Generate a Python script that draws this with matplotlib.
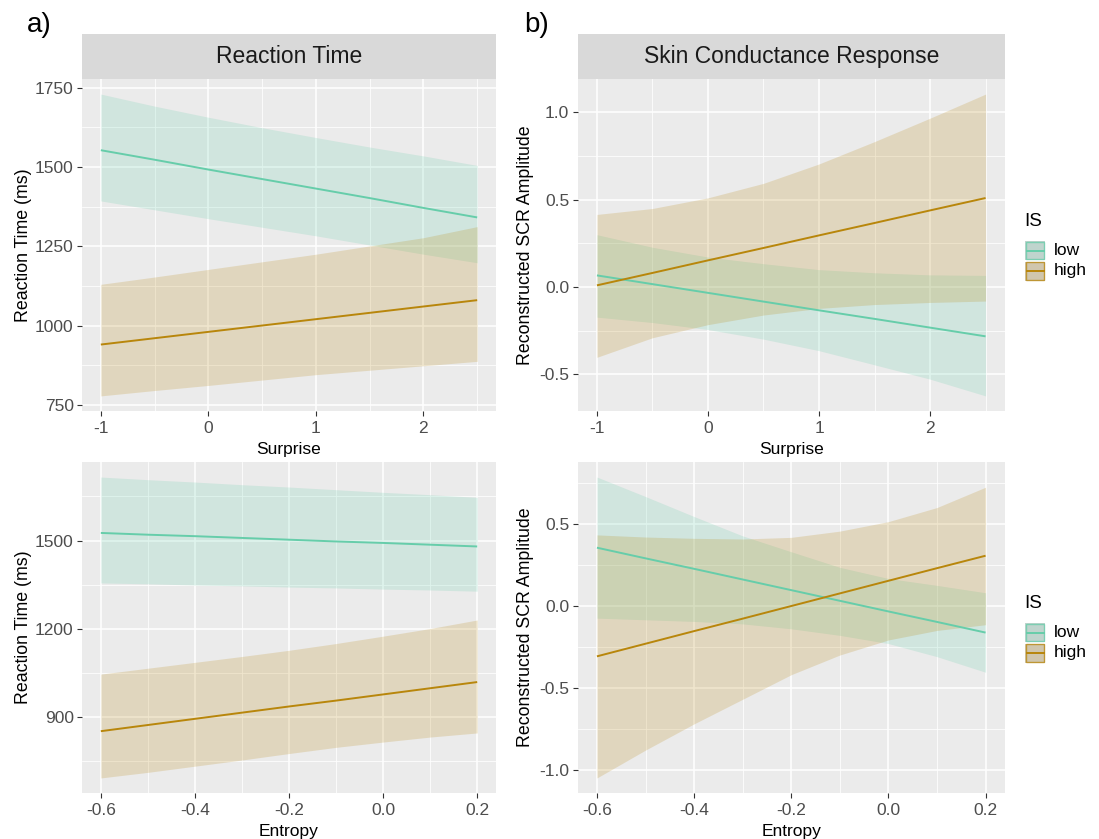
"""Interaction plots: reaction time and SCR by surprise / entropy, split by IS."""

import matplotlib.pyplot as plt
from matplotlib.patches import Rectangle
from matplotlib.ticker import FixedLocator, MultipleLocator

plt.rcParams["font.family"] = ["Liberation Sans", "DejaVu Sans"]

# ---- data ---------------------------------------------------------------
groups = ["low", "high"]

surprise_x = [-1.0, -0.5, 0.0, 0.5, 1.0, 1.5, 2.0, 2.5]
entropy_x = [-0.6, -0.5, -0.4, -0.3, -0.2, -0.1, 0.0, 0.1, 0.2]

# Reaction time ~ surprise
rt_s_low_fit = [1553, 1523, 1492, 1462, 1432, 1402, 1371, 1341]
rt_s_low_up = [1730, 1692, 1657, 1624, 1593, 1563, 1535, 1505]
rt_s_low_lo = [1393, 1365, 1337, 1310, 1283, 1254, 1225, 1198]
rt_s_high_fit = [940, 960, 980, 1000, 1020, 1040, 1060, 1080]
rt_s_high_up = [1130, 1153, 1177, 1201, 1225, 1251, 1277, 1312]
rt_s_high_lo = [778, 795, 811, 828, 845, 859, 873, 887]

# Reaction time ~ entropy
rt_e_low_fit = [1526, 1520, 1515, 1509, 1503, 1497, 1492, 1486, 1480]
rt_e_low_up = [1716, 1707, 1699, 1690, 1682, 1673, 1664, 1656, 1647]
rt_e_low_lo = [1356, 1353, 1349, 1346, 1342, 1339, 1335, 1332, 1328]
rt_e_high_fit = [852, 873, 894, 915, 936, 956, 977, 998, 1019]
rt_e_high_up = [1046, 1066, 1086, 1106, 1127, 1150, 1175, 1201, 1230]
rt_e_high_lo = [693, 712, 733, 754, 776, 797, 815, 832, 846]

# SCR ~ surprise
scr_s_low_fit = [0.067, 0.017, -0.033, -0.083, -0.133, -0.182, -0.232, -0.282]
scr_s_low_up = [0.300, 0.228, 0.172, 0.134, 0.100, 0.082, 0.070, 0.067]
scr_s_low_lo = [-0.172, -0.203, -0.243, -0.298, -0.364, -0.445, -0.527, -0.623]
scr_s_high_fit = [0.010, 0.081, 0.153, 0.224, 0.296, 0.367, 0.439, 0.510]
scr_s_high_up = [0.416, 0.450, 0.511, 0.594, 0.705, 0.833, 0.967, 1.105]
scr_s_high_lo = [-0.402, -0.290, -0.215, -0.160, -0.122, -0.100, -0.088, -0.080]

# SCR ~ entropy
scr_e_low_fit = [0.355, 0.290, 0.226, 0.161, 0.096, 0.031, -0.034, -0.098, -0.163]
scr_e_low_up = [0.786, 0.667, 0.545, 0.427, 0.330, 0.235, 0.167, 0.125, 0.080]
scr_e_low_lo = [-0.075, -0.085, -0.095, -0.110, -0.140, -0.180, -0.230, -0.310, -0.405]
scr_e_high_fit = [-0.308, -0.231, -0.154, -0.078, -0.001, 0.076, 0.153, 0.230, 0.306]
scr_e_high_up = [0.433, 0.420, 0.412, 0.408, 0.418, 0.456, 0.514, 0.600, 0.724]
scr_e_high_lo = [-1.050, -0.880, -0.720, -0.570, -0.420, -0.300, -0.208, -0.150, -0.115]

surprise_ticks = [-1, 0, 1, 2]
entropy_ticks = [-0.6, -0.4, -0.2, 0.0, 0.2]
rt_s_ticks = [750, 1000, 1250, 1500, 1750]
rt_e_ticks = [900, 1200, 1500]
scr_s_ticks = [-0.5, 0.0, 0.5, 1.0]
scr_e_ticks = [-1.0, -0.5, 0.0, 0.5]

# ---- style ----------------------------------------------------------------
COLORS = {"low": "#66CDAA", "high": "#B8860B"}
PANEL_BG = "#EBEBEB"
STRIP_BG = "#D9D9D9"
W, H = 1099, 839


def px_rect(x0, y0, x1, y1):
    return [x0 / W, 1 - y1 / H, (x1 - x0) / W, (y1 - y0) / H]


def fmt_tick(v, decimals):
    return f"{v:.{decimals}f}"


def draw_panel(ax, x, series, xticks, yticks, xlabel, ylabel, xdec, ydec, ylabelpad):
    ax.set_facecolor(PANEL_BG)
    for spine in ax.spines.values():
        spine.set_visible(False)

    for g in groups:
        fit, up, lo = series[g]
        ax.fill_between(x, lo, up, color=COLORS[g], alpha=0.2, lw=0)
    for g in groups:
        fit, up, lo = series[g]
        ax.plot(x, fit, color=COLORS[g], lw=1.4, solid_capstyle="butt")

    # ggplot-like 5% expansion
    ymin = min(min(series[g][2]) for g in groups)
    ymax = max(max(series[g][1]) for g in groups)
    ypad = 0.05 * (ymax - ymin)
    xpad = 0.05 * (max(x) - min(x))
    ax.set_xlim(min(x) - xpad, max(x) + xpad)
    ax.set_ylim(ymin - ypad, ymax + ypad)

    xstep = xticks[1] - xticks[0]
    ystep = yticks[1] - yticks[0]
    ax.xaxis.set_major_locator(FixedLocator(xticks))
    ax.yaxis.set_major_locator(FixedLocator(yticks))
    ax.xaxis.set_minor_locator(MultipleLocator(xstep / 2))
    ax.yaxis.set_minor_locator(MultipleLocator(ystep / 2))
    ax.set_xticklabels([fmt_tick(v, xdec) for v in xticks])
    ax.set_yticklabels([fmt_tick(v, ydec) for v in yticks])

    ax.grid(which="major", color="white", lw=1.1)
    ax.grid(which="minor", color="white", lw=0.55)
    ax.set_axisbelow(True)
    ax.tick_params(which="major", length=3.5, width=0.8, color="#333333",
                   labelsize=12.5, labelcolor="#4D4D4D", pad=2.5)
    ax.tick_params(axis="x", which="major", pad=4)
    ax.tick_params(which="minor", length=0)

    ax.set_xlabel(xlabel, fontsize=12.5, color="black", labelpad=4)
    ax.set_ylabel(ylabel, fontsize=12.8, color="black", labelpad=ylabelpad)


def draw_strip(rect, label):
    sax = fig.add_axes(rect)
    sax.set_facecolor(STRIP_BG)
    sax.set_xticks([])
    sax.set_yticks([])
    for spine in sax.spines.values():
        spine.set_visible(False)
    sax.text(0.5, 0.5, label, ha="center", va="center", fontsize=16.5,
             color="#1A1A1A", transform=sax.transAxes)


def draw_legend(ov, top):
    ov.text(1024, top, "IS", ha="left", va="center", fontsize=13.5, color="black")
    for i, g in enumerate(groups):
        y0 = top + 20 + i * 20.5
        ov.add_patch(Rectangle((1025, y0), 20, 19, facecolor="#D6D6D6",
                               edgecolor="none"))
        ov.add_patch(Rectangle((1025, y0), 20, 19, facecolor=COLORS[g], alpha=0.2,
                               edgecolor="none"))
        ov.add_patch(Rectangle((1025.7, y0 + 0.7), 18.6, 17.6, facecolor="none",
                               edgecolor=COLORS[g], lw=1.0, alpha=0.75))
        ov.plot([1026.5, 1043.5], [y0 + 9.5, y0 + 9.5], color=COLORS[g], lw=1.4)
        ov.text(1054, y0 + 9.5, g, ha="left", va="center", fontsize=12.5, color="black")


fig = plt.figure(figsize=(W / 100, H / 100), dpi=100)
fig.patch.set_facecolor("white")

LEFT = (82, 496)
RIGHT = (577.5, 1005)
TOP = (79, 411)
BOTTOM = (462, 793)

ax_tl = fig.add_axes(px_rect(LEFT[0], TOP[0], LEFT[1], TOP[1]))
ax_tr = fig.add_axes(px_rect(RIGHT[0], TOP[0], RIGHT[1], TOP[1]))
ax_bl = fig.add_axes(px_rect(LEFT[0], BOTTOM[0], LEFT[1], BOTTOM[1]))
ax_br = fig.add_axes(px_rect(RIGHT[0], BOTTOM[0], RIGHT[1], BOTTOM[1]))

draw_panel(ax_tl, surprise_x,
           {"low": (rt_s_low_fit, rt_s_low_up, rt_s_low_lo),
            "high": (rt_s_high_fit, rt_s_high_up, rt_s_high_lo)},
           surprise_ticks, rt_s_ticks, "Surprise", "Reaction Time (ms)", 0, 0, 2)
draw_panel(ax_tr, surprise_x,
           {"low": (scr_s_low_fit, scr_s_low_up, scr_s_low_lo),
            "high": (scr_s_high_fit, scr_s_high_up, scr_s_high_lo)},
           surprise_ticks, scr_s_ticks, "Surprise", "Reconstructed SCR Amplitude", 0, 1, 4)
draw_panel(ax_bl, entropy_x,
           {"low": (rt_e_low_fit, rt_e_low_up, rt_e_low_lo),
            "high": (rt_e_high_fit, rt_e_high_up, rt_e_high_lo)},
           entropy_ticks, rt_e_ticks, "Entropy", "Reaction Time (ms)", 1, 0, 2)
draw_panel(ax_br, entropy_x,
           {"low": (scr_e_low_fit, scr_e_low_up, scr_e_low_lo),
            "high": (scr_e_high_fit, scr_e_high_up, scr_e_high_lo)},
           entropy_ticks, scr_e_ticks, "Entropy", "Reconstructed SCR Amplitude", 1, 1, 4)

draw_strip(px_rect(LEFT[0], 34, LEFT[1], TOP[0]), "Reaction Time")
draw_strip(px_rect(RIGHT[0], 34, RIGHT[1], TOP[0]), "Skin Conductance Response")

# overlay in pixel coordinates for panel tags and legends
ov = fig.add_axes([0, 0, 1, 1], zorder=5)
ov.set_xlim(0, W)
ov.set_ylim(H, 0)
ov.axis("off")
ov.patch.set_alpha(0)

ov.text(27, 25, "a)", ha="left", va="center", fontsize=20, color="black")
ov.text(524, 25, "b)", ha="left", va="center", fontsize=20, color="black")

draw_legend(ov, 221)
draw_legend(ov, 603)

fig.savefig("out.png", dpi=100)
